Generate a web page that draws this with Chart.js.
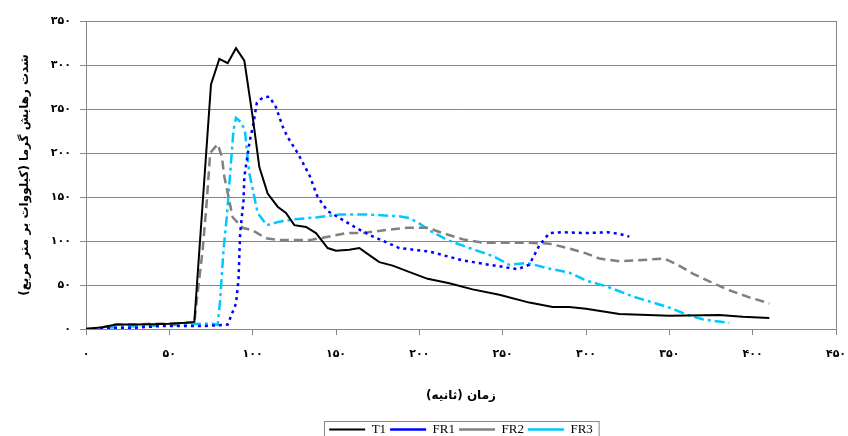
<!DOCTYPE html>
<html>
<head>
<meta charset="utf-8">
<script src="https://cdn.jsdelivr.net/npm/chart.js@4.4.1/dist/chart.umd.min.js"></script>
<style>
  html, body { margin: 0; padding: 0; background: #fff; }
  #heat { display: block; }
</style>
</head>
<body>
<canvas id="heat" width="848" height="436"></canvas>
<script>
// Heat release rate curves (time in s, HRR in kW/m2)
const t1Time = [0, 10, 18, 30, 40, 50, 60, 65, 75, 80, 85, 90, 95, 100, 104, 109, 115, 120, 125, 132, 138, 145, 150, 158, 164, 170, 176, 184, 195, 205, 218, 232, 248, 266, 280, 290, 300, 320, 350, 380, 394, 410];
const t1Vals = [0, 2, 5, 5, 5.5, 6, 7, 8, 278, 307, 302, 319, 305, 241, 184, 154, 139, 132, 118, 116, 109, 92, 89, 90, 92, 84, 76, 72, 64, 57, 52, 45, 39, 30, 25, 25, 23, 17, 15, 16, 14, 12.5];

const fr1Time = [0, 10, 20, 30, 46, 60, 72, 85, 90, 91.5, 92.5, 94.5, 95, 98, 100.5, 102.5, 106, 110, 114, 118, 121, 127, 134, 139, 145, 154, 162, 170, 188, 206, 226, 242, 259, 266, 272, 278, 286, 300, 313, 320, 326];
const fr1Vals = [0, 0.5, 1.5, 1.5, 3.5, 3.5, 3.5, 5, 29, 56, 109, 146, 173, 211, 234, 257, 263, 264, 252, 230, 218, 200, 175, 150, 134, 124, 115, 107, 92, 88, 78, 73, 68, 73, 95, 109, 110, 109, 110, 108, 105];

const fr2Time = [0, 10, 18, 30, 40, 50, 60, 65, 66.5, 70, 72.5, 74.5, 79, 81.5, 83, 88, 94, 100, 108, 116, 134, 146, 156, 166, 182, 193, 205, 214, 226, 238, 250, 266, 278, 289, 300, 308, 320, 330, 347, 355, 364, 374, 386, 398, 410];
const fr2Vals = [0, 2, 5, 5, 6, 6, 7, 7, 33, 90, 146, 200, 210, 196, 173, 127, 115, 112, 103, 101, 101, 105, 109, 109, 113, 115, 115, 109, 102, 98, 98, 98, 97, 92, 86, 80, 77, 78, 80, 73, 63, 54, 44, 36, 29];

const fr3Time = [0, 10, 20, 30, 45, 60, 70, 76, 79, 80.5, 82.5, 84.5, 86.5, 88.5, 90, 93.5, 95.5, 96.5, 98, 103, 108.5, 116, 127, 139, 152, 170, 188, 194, 200, 206, 217, 230, 244, 254, 265, 277, 290, 298, 302, 313, 328, 349, 361, 370, 386];
const fr3Vals = [0, 1, 2.5, 3, 4, 5, 6, 6, 4.5, 33, 90, 128, 177, 226, 240, 234, 223, 203, 177, 132, 118, 122, 125, 127, 130, 130, 128, 126, 120, 112, 101, 92, 83, 73, 75, 69, 64, 57, 54, 48, 37, 25, 16, 11, 7];

const seriesNames = ['T1', 'FR1', 'FR2', 'FR3'];
const xTitle = 'زمان (ثانیه)\u200F';
const yTitle = 'شدت رهایش گرما (کیلووات بر متر مربع)\u200F';

const persianDigits = '۰۱۲۳۴۵۶۷۸۹';
function toPersian(n) {
    return String(n).replace(/\d/g, d => persianDigits[d]);
}
function pts(ts, vs) {
    return ts.map((t, i) => ({ x: t, y: vs[i] }));
}

const axisGray = '#868686';

// frame around the plot area (Excel style)
const plotFrame = {
    id: 'plotFrame',
    beforeDatasetsDraw(chart) {
        const { ctx, chartArea: a } = chart;
        ctx.save();
        ctx.strokeStyle = axisGray;
        ctx.lineWidth = 1;
        ctx.strokeRect(a.left + 0.5, a.top + 0.5, a.right - a.left, a.bottom - a.top);
        ctx.restore();
    }
};

// box round the legend items
const legendFrame = {
    id: 'legendFrame',
    afterDraw(chart) {
        const boxes = chart.legend.legendHitBoxes;
        if (!boxes || !boxes.length) return;
        const left = Math.min(...boxes.map(b => b.left)) - 5;
        const right = Math.max(...boxes.map(b => b.left + b.width)) + 6;
        const top = Math.min(...boxes.map(b => b.top)) - 2;
        const ctx = chart.ctx;
        ctx.save();
        ctx.strokeStyle = axisGray;
        ctx.lineWidth = 1;
        ctx.strokeRect(Math.round(left) + 0.5, Math.round(top) + 0.5, right - left, 30);
        ctx.restore();
    }
};

const tickFont = { family: 'DejaVu Sans', size: 11, weight: 'bold' };
const titleFont = { family: 'DejaVu Sans', size: 12, weight: 'bold' };

new Chart(document.getElementById('heat'), {
    type: 'line',
    data: {
        datasets: [
            { label: seriesNames[0], data: pts(t1Time, t1Vals), borderColor: '#000000', borderWidth: 2 },
            { label: seriesNames[1], data: pts(fr1Time, fr1Vals), borderColor: '#0000ff', borderWidth: 2.5, borderDash: [3, 4] },
            { label: seriesNames[2], data: pts(fr2Time, fr2Vals), borderColor: '#808080', borderWidth: 2.5, borderDash: [9, 5] },
            { label: seriesNames[3], data: pts(fr3Time, fr3Vals), borderColor: '#00c8ff', borderWidth: 2.5, borderDash: [10, 4, 3, 4] }
        ]
    },
    options: {
        responsive: false,
        animation: false,
        elements: {
            point: { radius: 0 },
            line: { tension: 0, fill: false }
        },
        layout: { padding: { left: 0, right: 12, top: 21, bottom: 0 } },
        plugins: {
            tooltip: { enabled: false },
            legend: {
                position: 'bottom',
                fullSize: false,
                maxHeight: 17,
                labels: {
                    usePointStyle: true,
                    pointStyle: 'line',
                    pointStyleWidth: 36,
                    padding: 4,
                    color: '#000',
                    font: { family: 'Liberation Serif', size: 13 }
                }
            }
        },
        scales: {
            x: {
                type: 'linear',
                min: 0,
                max: 450,
                afterFit: s => { s.height = 90; s.paddingLeft = 0; s.paddingRight = 0; },
                ticks: { stepSize: 50, padding: 13, color: '#000', font: tickFont, maxRotation: 0, callback: v => toPersian(v) },
                grid: { drawOnChartArea: false, drawTicks: true, tickLength: 6, color: axisGray },
                border: { color: axisGray },
                title: { display: true, text: xTitle, color: '#000', font: titleFont, padding: { bottom: 16 } }
            },
            y: {
                min: 0,
                max: 350,
                afterFit: s => { s.width = 86; s.paddingTop = 0; s.paddingBottom = 0; },
                ticks: { stepSize: 50, padding: 9, color: '#000', font: tickFont, callback: v => toPersian(v) },
                grid: { color: axisGray, tickLength: 6 },
                border: { color: axisGray },
                title: { display: true, text: yTitle, color: '#000', font: titleFont, padding: { top: 18 } }
            }
        }
    },
    plugins: [plotFrame, legendFrame]
});
</script>
</body>
</html>
